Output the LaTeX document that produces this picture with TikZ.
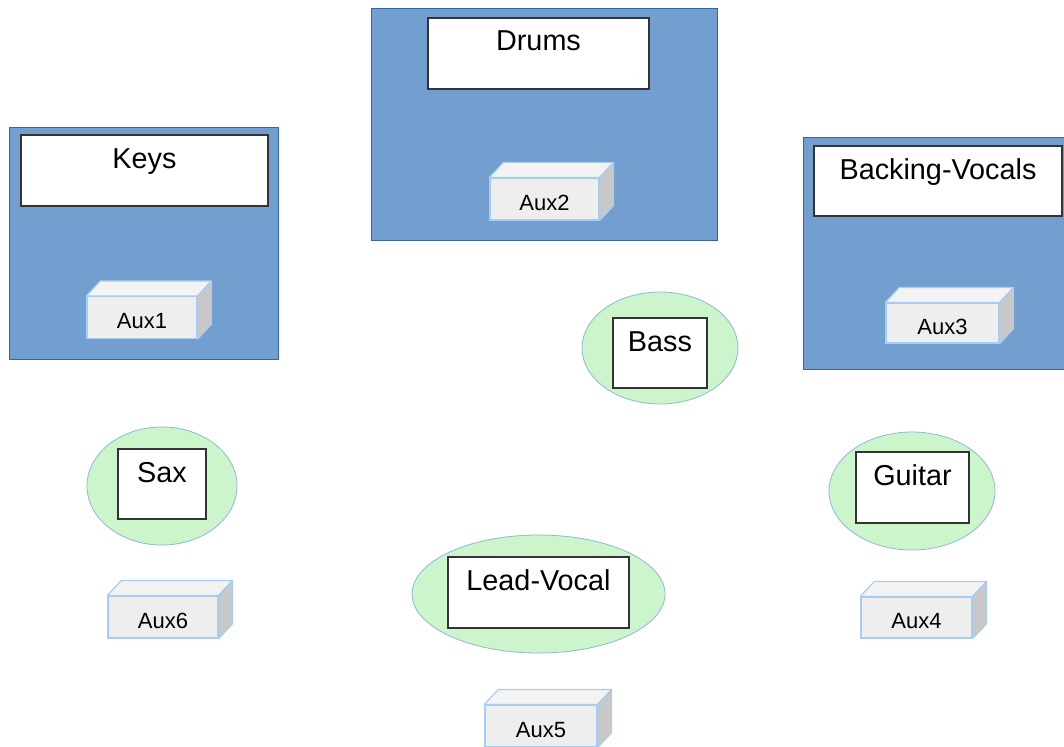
\documentclass[tikz,border=0pt]{standalone}
\usepackage{fontspec}
\setmainfont{Liberation Sans}
\usetikzlibrary{shapes.geometric,calc}
\definecolor{stageblue}{HTML}{729FCF}
\definecolor{stageedge}{HTML}{3465A4}
\definecolor{padgreen}{HTML}{CCF5CC}
\definecolor{padedge}{HTML}{8FB8D8}
\definecolor{auxedge}{HTML}{A6CDF2}
\definecolor{auxfront}{HTML}{EEEEEE}
\definecolor{auxtop}{HTML}{F3F3F3}
\definecolor{auxside}{HTML}{C8C8C8}
\begin{document}
\begin{tikzpicture}[x=1pt,y=-1pt,
  riser/.style={draw=stageedge,line width=0.8pt,fill=stageblue},
  pad/.style={ellipse,draw=padedge,line width=0.8pt,fill=padgreen,inner sep=0pt},
  namebox/.style={draw=black!80,line width=1.3pt,fill=white,inner sep=0pt,
    font=\fontsize{28.8}{32}\selectfont,text height=33pt},
  auxbox/.style={draw=auxedge,line width=1.2pt,fill=auxfront,inner sep=0pt,
    minimum height=42pt,font=\fontsize{22}{25}\selectfont,text height=22.5pt,text depth=0pt},
  auxtopface/.style={draw=auxedge,line width=1.2pt,fill=auxtop,line join=round},
  auxsideface/.style={draw=auxedge,line width=1.2pt,fill=auxside,line join=round}]
\useasboundingbox (0,0) rectangle (1064,746);
\fill[white] (0,0) rectangle (1064,746);
\newcommand{\auxfaces}[1]{%
  \path[auxtopface] (#1.north west) -- ++(14,-15) -- ($(#1.north east)+(14,-15)$) -- (#1.north east) -- cycle;
  \path[auxsideface] (#1.north east) -- ++(14,-15) -- ($(#1.south east)+(14,-15)$) -- (#1.south east) -- cycle;}
% risers
\path[riser] (9,127) rectangle (278,359);
\path[riser] (371,8) rectangle (717,240);
\path[riser] (803,137) rectangle (1070,369);
% name boxes on risers
\node[namebox,minimum width=247pt,text depth=38pt] (keys) at (144.5,170.5) {Keys};
\node[namebox,minimum width=221pt,text depth=38pt] (drums) at (538.5,53.5) {Drums};
\node[namebox,minimum width=248pt,text depth=37pt] (bv) at (938,181) {Backing-Vocals};
% aux boxes on risers
\node[auxbox,minimum width=110pt] (aux1) at (142,317.5) {Aux1};
\node[auxbox,minimum width=109pt] (aux2) at (544.5,199) {Aux2};
\node[auxbox,minimum width=113pt,minimum height=40pt] (aux3) at (942.5,323) {Aux3};
% pads
\node[pad,minimum width=156pt,minimum height=112pt] (basspad) at (660,348) {};
\node[pad,minimum width=150pt,minimum height=118pt] (saxpad) at (162,486) {};
\node[pad,minimum width=166pt,minimum height=118pt] (guitarpad) at (912,491) {};
\node[pad,minimum width=253pt,minimum height=118pt] (leadpad) at (538.5,594) {};
% name boxes on pads
\node[namebox,minimum width=94pt,text depth=37pt] (bass) at (660,353) {Bass};
\node[namebox,minimum width=88pt,text depth=37pt] (sax) at (162,484) {Sax};
\node[namebox,minimum width=113pt,text depth=38pt] (guitar) at (912.5,487.5) {Guitar};
\node[namebox,minimum width=181pt,text depth=38pt] (lead) at (538.5,592.5) {Lead-Vocal};
% floor aux boxes
\node[auxbox,minimum width=110pt] (aux6) at (163,617) {Aux6};
\node[auxbox,minimum width=111pt,minimum height=41pt] (aux4) at (916.5,617.5) {Aux4};
\node[auxbox,minimum width=112pt] (aux5) at (541,726) {Aux5};
% 3D faces of aux boxes
\auxfaces{aux1}
\auxfaces{aux2}
\auxfaces{aux3}
\auxfaces{aux4}
\auxfaces{aux5}
\auxfaces{aux6}
\end{tikzpicture}
\end{document}
